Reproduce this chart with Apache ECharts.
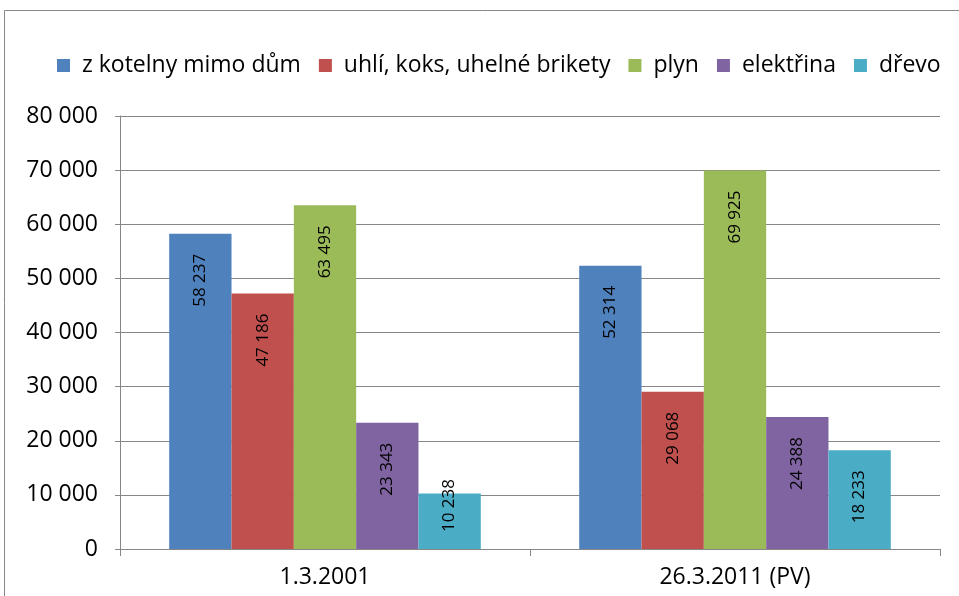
<!DOCTYPE html>
<html><head><meta charset="utf-8">
<script src="https://cdn.jsdelivr.net/npm/echarts@6/dist/echarts.min.js"></script>
<style>html,body{margin:0;padding:0;background:#fff}#c{width:959px;height:596px}</style>
</head><body><div id="c"></div>
<script>
const categories = ['1.3.2001', '26.3.2011 (PV)'];
const seriesNames = ['z kotelny mimo dům', 'uhlí, koks, uhelné brikety', 'plyn', 'elektřina', 'dřevo'];
const kotelna = [58237, 52314];
const uhli = [47186, 29068];
const plyn = [63495, 69925];
const elektrina = [23343, 24388];
const drevo = [10238, 18233];
const colors = ['#4F81BD', '#C0504D', '#9BBB59', '#8064A2', '#4BACC6'];
const values = [kotelna, uhli, plyn, elektrina, drevo];

const fmt = v => String(v).replace(/\B(?=(\d{3})+(?!\d))/g, ' ');
const FONT = 'Open Sans';

const chart = echarts.init(document.getElementById('c'), null, {renderer: 'canvas'});
chart.setOption({
  animation: false,
  textStyle: {fontFamily: FONT},
  graphic: [{type: 'rect', shape: {x: 4.5, y: 10.5, width: 1100, height: 1100}, style: {fill: 'none', stroke: '#888', lineWidth: 1}, silent: true}],
  legend: {
    top: 49, left: 52,
    itemWidth: 13, itemHeight: 13, itemGap: 18,
    icon: 'rect',
    textStyle: {fontFamily: FONT, fontSize: 23, color: '#000', padding: [0, 0, 0, 7]},
    data: seriesNames
  },
  grid: {left: 120, right: 19, top: 116, bottom: 47},
  xAxis: {
    type: 'category', data: categories,
    axisLine: {lineStyle: {color: '#868686'}},
    axisTick: {show: true, length: 7, lineStyle: {color: '#868686'}},
    axisLabel: {fontFamily: FONT, fontSize: 23, color: '#000', margin: 17}
  },
  yAxis: {
    type: 'value', min: 0, max: 80000, interval: 10000,
    axisLine: {show: true, lineStyle: {color: '#868686'}},
    axisTick: {show: true, length: 5, lineStyle: {color: '#868686'}},
    splitLine: {lineStyle: {color: '#868686', width: 1}},
    axisLabel: {fontFamily: FONT, fontSize: 23, color: '#000', margin: 22, formatter: fmt}
  },
  series: seriesNames.map((n, i) => ({
    name: n, type: 'bar',
    data: values[i].map(v => v < 15000
      ? {value: v, label: {position: 'insideBottom', distance: 17, align: 'left'}}
      : v),
    barGap: '0%', barCategoryGap: '24%',
    itemStyle: {color: colors[i]},
    label: {
      show: true, position: 'insideTop', rotate: 90, distance: 20,
      align: 'right', verticalAlign: 'middle',
      fontFamily: FONT, fontSize: 17, color: '#000',
      formatter: p => fmt(p.value)
    }
  }))
});
</script></body></html>
